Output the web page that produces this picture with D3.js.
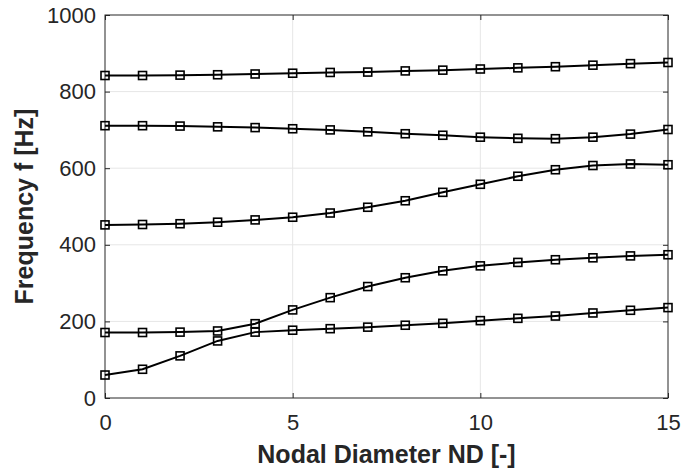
<!DOCTYPE html>
<html lang="en">
<head>
<meta charset="UTF-8">
<title>Nodal Diameter vs Frequency</title>
<script src="https://d3js.org/d3.v7.min.js"></script>
<style>
    body { margin: 0; background: #fff; }
    text { font-family: "Liberation Sans", Arial, sans-serif; }
</style>
</head>
<body>
<div id="chart"></div>
<script>
    // nodal diameters
    const nd = [0, 1, 2, 3, 4, 5, 6, 7, 8, 9, 10, 11, 12, 13, 14, 15];

    // frequency branches [Hz]
    const mode1 = [60, 75, 110, 149, 172, 177, 181, 185, 190, 195, 202, 208, 214, 222, 229, 236];
    const mode2 = [171, 171, 172, 175, 194, 230, 262, 291, 314, 332, 345, 354, 361, 366, 371, 374];
    const mode3 = [452, 453, 455, 459, 465, 472, 483, 498, 515, 537, 558, 579, 596, 607, 611, 609];
    const mode4 = [711, 711, 710, 708, 706, 703, 700, 695, 690, 686, 681, 678, 677, 681, 689, 701];
    const mode5 = [842, 842, 843, 844, 846, 848, 850, 851, 854, 856, 859, 862, 865, 869, 873, 876];
    const modes = [mode1, mode2, mode3, mode4, mode5];

    const xTicks = [0, 5, 10, 15];
    const yTicks = [0, 200, 400, 600, 800, 1000];

    const W = 683, H = 470;
    const margin = { top: 15, right: 15, bottom: 72, left: 105 };
    const width = W - margin.left - margin.right,
        height = H - margin.top - margin.bottom;

    const svg = d3.select("#chart").append("svg")
        .attr("width", W)
        .attr("height", H);

    const g = svg.append("g")
        .attr("transform", `translate(${margin.left},${margin.top})`);

    const x = d3.scaleLinear().domain([0, 15]).range([0, width]);
    const y = d3.scaleLinear().domain([0, 1000]).range([height, 0]);

    // grid
    g.append("g").selectAll("line").data(xTicks.slice(1, -1)).join("line")
        .attr("x1", d => x(d)).attr("x2", d => x(d))
        .attr("y1", 0).attr("y2", height)
        .attr("stroke", "#e6e6e6").attr("stroke-width", 1);
    g.append("g").selectAll("line").data(yTicks.slice(1, -1)).join("line")
        .attr("y1", d => y(d)).attr("y2", d => y(d))
        .attr("x1", 0).attr("x2", width)
        .attr("stroke", "#e6e6e6").attr("stroke-width", 1);

    // axes (ticks pointing inward, like matlab)
    const axisColor = "#262626";
    const styleAxis = sel => {
        sel.select(".domain").remove();
        sel.selectAll(".tick line").attr("stroke", axisColor);
        sel.selectAll(".tick text")
            .attr("fill", axisColor)
            .style("font-size", "22px");
    };

    g.append("g")
        .attr("transform", `translate(0,${height})`)
        .call(d3.axisBottom(x).tickValues(xTicks).tickSizeInner(-5).tickSizeOuter(0).tickPadding(16))
        .call(styleAxis);
    g.append("g")
        .call(d3.axisTop(x).tickValues(xTicks).tickSizeInner(-5).tickSizeOuter(0).tickFormat(""))
        .call(styleAxis);
    g.append("g")
        .call(d3.axisLeft(y).tickValues(yTicks).tickSizeInner(-5).tickSizeOuter(0)
            .tickPadding(9).tickFormat(d3.format("d")))
        .call(styleAxis);
    g.append("g")
        .attr("transform", `translate(${width},0)`)
        .call(d3.axisRight(y).tickValues(yTicks).tickSizeInner(-5).tickSizeOuter(0).tickFormat(""))
        .call(styleAxis);

    g.append("rect")
        .attr("width", width).attr("height", height)
        .attr("fill", "none").attr("stroke", axisColor).attr("stroke-width", 1);

    // lines + square markers
    const line = d3.line()
        .x((d, i) => x(nd[i]))
        .y(d => y(d));

    modes.forEach(m => {
        g.append("path")
            .datum(m)
            .attr("fill", "none")
            .attr("stroke", "#000")
            .attr("stroke-width", 2)
            .attr("d", line);

        g.append("g").selectAll("rect").data(m).join("rect")
            .attr("x", (d, i) => x(nd[i]) - 4)
            .attr("y", d => y(d) - 4)
            .attr("width", 8).attr("height", 8)
            .attr("fill", "none")
            .attr("stroke", "#000")
            .attr("stroke-width", 1.6);
    });

    // labels
    svg.append("text")
        .attr("x", margin.left + width / 2)
        .attr("y", 463)
        .attr("text-anchor", "middle")
        .attr("fill", axisColor)
        .style("font-size", "25px")
        .style("font-weight", "bold")
        .text("Nodal Diameter ND [-]");

    svg.append("text")
        .attr("transform", `translate(33,${margin.top + height / 2}) rotate(-90)`)
        .attr("text-anchor", "middle")
        .attr("fill", axisColor)
        .style("font-size", "25px")
        .style("font-weight", "bold")
        .text("Frequency f [Hz]");
</script>
</body>
</html>
